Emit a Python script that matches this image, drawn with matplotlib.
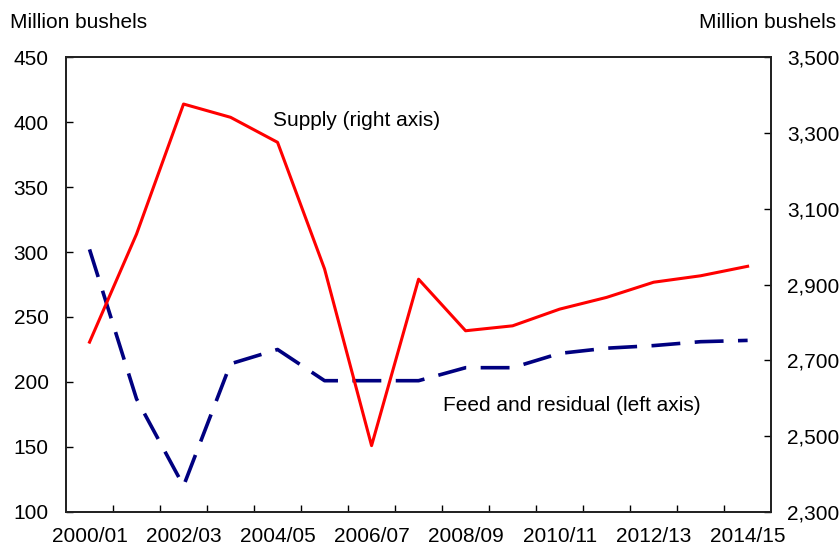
import matplotlib
matplotlib.use("Agg")
import matplotlib.pyplot as plt
from matplotlib.ticker import FuncFormatter, FixedLocator
import numpy as np

plt.rcParams['font.family'] = ['Liberation Sans', 'DejaVu Sans']

years = ['2000/01', '2001/02', '2002/03', '2003/04', '2004/05', '2005/06',
         '2006/07', '2007/08', '2008/09', '2009/10', '2010/11', '2011/12',
         '2012/13', '2013/14', '2014/15']
# million bushels
feed_residual = [302, 187, 120, 214, 225, 201, 201, 201, 211, 211, 222, 226, 228, 231, 232]
supply = [2748, 3033, 3376, 3341, 3275, 2941, 2475, 2914, 2778, 2791, 2835, 2866,
          2906, 2923, 2948]

fig = plt.figure(figsize=(8.4, 5.52), dpi=100)
ax1 = fig.add_axes([0.0786, 0.0725, 0.8394, 0.8242])
ax2 = ax1.twinx()

x = np.arange(len(years))
ax1.plot(x, feed_residual, color='#000080', lw=2.6, dashes=(8, 4),
         solid_capstyle='butt')
ax2.plot(x, supply, color='#ff0000', lw=2.2)

ax1.set_xlim(-0.5, len(years) - 0.5)
ax1.set_ylim(100, 450)
ax2.set_ylim(2300, 3500)
ax1.set_yticks(np.arange(100, 451, 50))
ax2.set_yticks(np.arange(2300, 3501, 200))
ax2.yaxis.set_major_formatter(FuncFormatter(lambda v, p: f'{int(v):,}'))

ax1.set_xticks(x[::2])
ax1.set_xticklabels(years[::2])
ax1.xaxis.set_minor_locator(FixedLocator(x[:-1] + 0.5))
ax1.tick_params(axis='x', which='major', length=0, pad=11, labelsize=15)
ax1.tick_params(axis='x', which='minor', direction='in', length=5, width=1)
ax1.tick_params(axis='y', direction='in', length=5, width=1, pad=12.5, labelsize=15)
ax2.tick_params(axis='y', direction='in', length=5, width=1, pad=11.5, labelsize=15)

for a in (ax1, ax2):
    for s in a.spines.values():
        s.set_linewidth(1.3)
        s.set_color('#222222')

fig.text(10 / 840, 1 - 22 / 552, 'Million bushels', fontsize=15, ha='left', va='center')
fig.text(836 / 840, 1 - 22 / 552, 'Million bushels', fontsize=15, ha='right', va='center')

ax1.text(3.9, 401, 'Supply (right axis)', fontsize=15, ha='left', va='center')
ax1.text(7.52, 182, 'Feed and residual (left axis)', fontsize=15, ha='left', va='center')

fig.savefig('out.png', dpi=100)
